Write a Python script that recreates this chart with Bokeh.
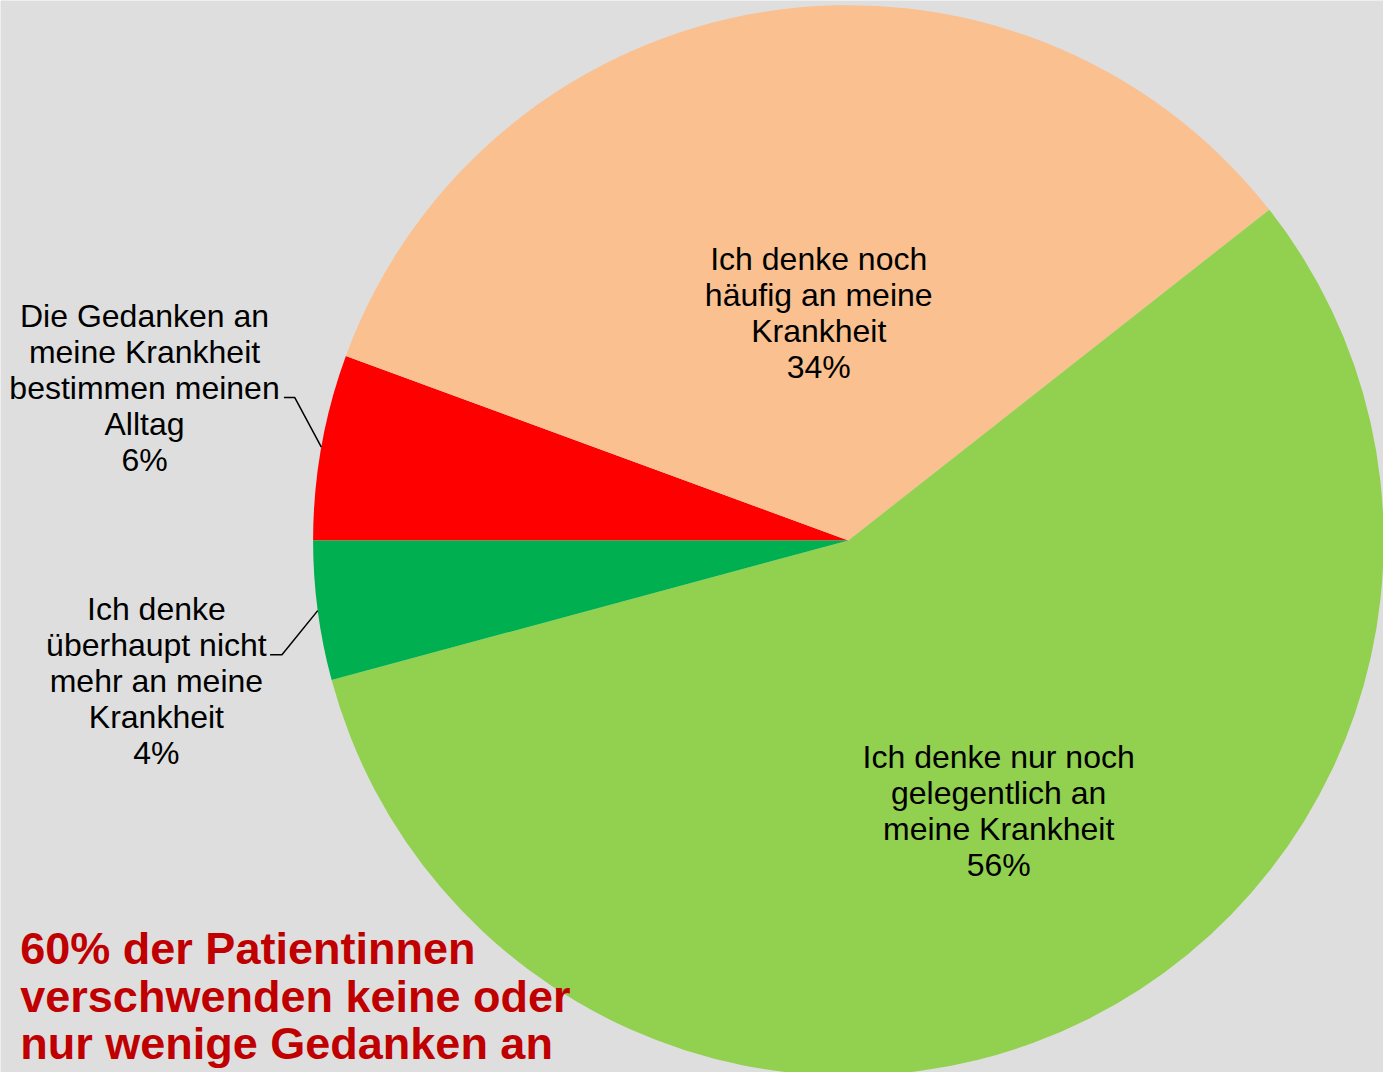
import math
from bokeh.plotting import figure
from bokeh.models import Range1d
from bokeh.core.properties import value
from bokeh.embed import file_html
from bokeh.resources import INLINE

# ---- data ----
categories = [
    "Die Gedanken an meine Krankheit bestimmen meinen Alltag",
    "Ich denke noch häufig an meine Krankheit",
    "Ich denke nur noch gelegentlich an meine Krankheit",
    "Ich denke überhaupt nicht mehr an meine Krankheit",
]
shares = [5.6, 33.8, 56.4, 4.2]
pct_labels = ["6%", "34%", "56%", "4%"]
label_lines = [
    ["Die Gedanken an", "meine Krankheit", "bestimmen meinen", "Alltag"],
    ["Ich denke noch", "häufig an meine", "Krankheit"],
    ["Ich denke nur noch", "gelegentlich an", "meine Krankheit"],
    ["Ich denke", "überhaupt nicht", "mehr an meine", "Krankheit"],
]
colors = ["#FF0000", "#FAC090", "#92D050", "#00B050"]
note_lines = ["60% der Patientinnen", "verschwenden keine oder", "nur wenige Gedanken an"]

# ---- layout (pixel-like units, pie centre at 0,0) ----
W, H = 1383, 1072
REF_W, REF_H = 1399, 1088
CX, CY = 857.7, 548
R = 541.5
label_pos = [(-712, 155), (-30, 231), (152, -275), (-700, -143)]
leader_start = {0: [(-571, 145), (-560, 145)], 3: [(-585, -116), (-573, -116)]}
line_h = 36.6
font = value("Liberation Sans")

p = figure(width=W, height=H, output_backend="svg", toolbar_location=None,
           x_range=Range1d(-CX, REF_W - CX),
           y_range=Range1d(CY - REF_H, CY),
           min_border=0, outline_line_color=None,
           background_fill_color="#DEDEDE", border_fill_color="#DEDEDE")
p.axis.visible = False
p.grid.visible = False

total = sum(shares)
cum = 0.0
mids = []
for i, s in enumerate(shares):
    a0 = math.pi - 2 * math.pi * cum / total
    cum += s
    a1 = math.pi - 2 * math.pi * cum / total
    mids.append((a0 + a1) / 2)
    p.wedge(x=0, y=0, radius=R, start_angle=a1, end_angle=a0,
            direction="anticlock", fill_color=colors[i], line_color=None)

# labels
for i, lines in enumerate(label_lines):
    all_lines = lines + [pct_labels[i]]
    n = len(all_lines)
    cx, cy = label_pos[i]
    ys = [cy + (n - 1) / 2 * line_h - k * line_h for k in range(n)]
    p.text(x=[cx] * n, y=ys, text=all_lines, text_font=font,
           text_font_size="32px", text_color="#000000",
           text_align="center", text_baseline="middle")

# leader lines for outside labels
for i, pts in leader_start.items():
    ex, ey = R * math.cos(mids[i]), R * math.sin(mids[i])
    xs = [pts[0][0], pts[1][0], ex]
    ys = [pts[0][1], pts[1][1], ey]
    p.line(xs, ys, line_color="#000000", line_width=1.5)

# annotation
nx = 20 - CX
ny0 = CY - 962
p.text(x=[nx] * len(note_lines), y=[ny0 - k * 48.5 for k in range(len(note_lines))],
       text=note_lines, text_font=font, text_font_size="45px",
       text_font_style="bold", text_color="#C00000",
       text_align="left", text_baseline="middle")

open("out.html", "w").write(file_html(p, INLINE))
